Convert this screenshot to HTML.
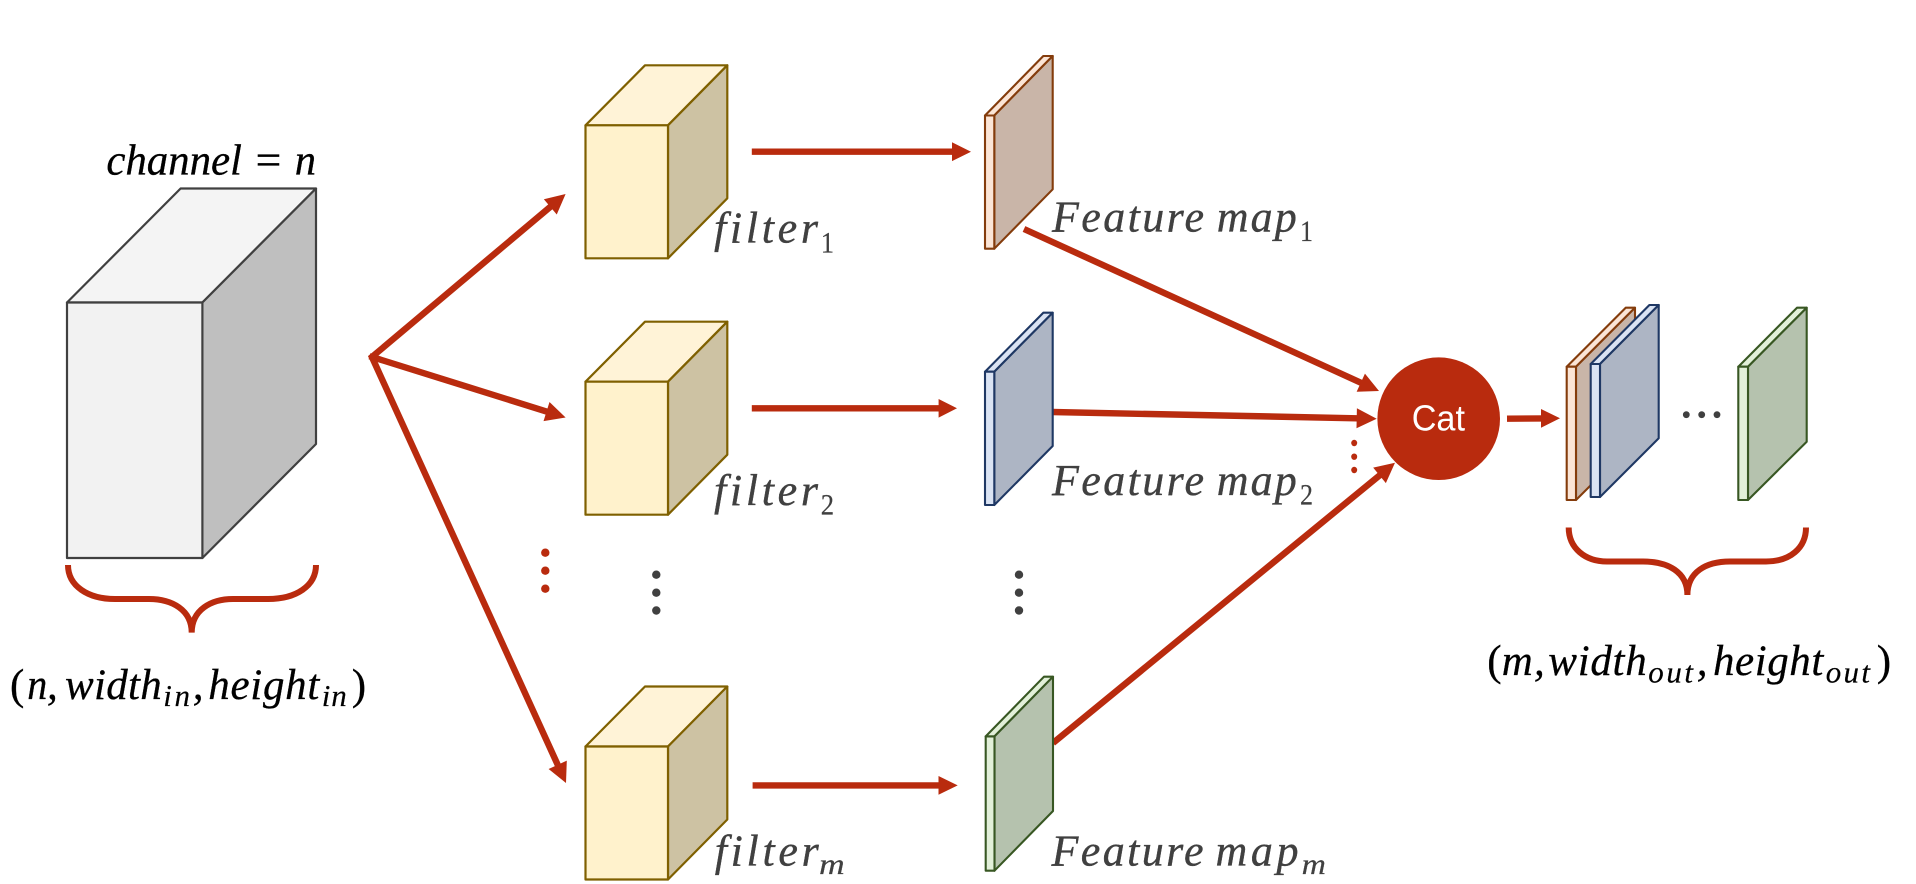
<!DOCTYPE html>
<html><head><meta charset="utf-8"><style>
html,body{margin:0;padding:0;background:#fff;width:1916px;height:884px;overflow:hidden}
svg{display:block}
text{font-family:"Liberation Serif",serif;font-style:italic}
.b{font-size:43px;fill:#000;stroke:#000;stroke-width:.3}
.bs{font-size:31px;fill:#000;stroke:#000;stroke-width:.2}
.g{font-size:44px;fill:#404040;stroke:#404040;stroke-width:.35}
.gs{font-size:30px;fill:#404040;stroke:#404040;stroke-width:.2}
.n{font-style:normal}
</style></head><body>
<svg width="1916" height="884" viewBox="0 0 1916 884" xmlns="http://www.w3.org/2000/svg">
<defs>
<g id="fc1" stroke="#7F6000" stroke-width="2.2" stroke-linejoin="round">
<polygon points="585.5,0 668,0 727.3,-60 645,-60" fill="#FFF3D7"/>
<polygon points="668,0 727.3,-60 727.3,73 668,133" fill="#CDC2A3"/>
<rect x="585.5" y="0" width="82.5" height="133" fill="#FFF2CC"/>
</g>
</defs>
<!-- gray cube -->
<g stroke="#404040" stroke-width="2.2" stroke-linejoin="round">
<polygon points="67,302.5 202.4,302.5 316,188.5 180.6,188.5" fill="#F4F4F4"/>
<polygon points="202.4,302.5 316,188.5 316,444 202.4,558" fill="#BFBFBF"/>
<rect x="67" y="302.5" width="135.4" height="255.5" fill="#F2F2F2"/>
</g>
<text class="b" x="106.4" y="174.7" textLength="135.5">channel</text>
<text class="b n" x="255.6" y="174.7" textLength="25.7" lengthAdjust="spacingAndGlyphs">=</text>
<text class="b" x="294.7" y="174.7" textLength="21.3" lengthAdjust="spacingAndGlyphs">n</text>
<path d="M68 565C68 586 88 599 115 599L149 599C172 599 191.7 610 191.7 632.6C191.7 610 211 599 233 599L268 599C296 599 316 586 316 565" fill="none" stroke="#B92B0E" stroke-width="6"/>
<text class="b n" x="10" y="699">(</text>
<text class="b" x="27.3" y="699" textLength="20" lengthAdjust="spacingAndGlyphs">n</text>
<text class="b" x="47" y="699">,</text>
<text class="b" x="65" y="699" textLength="96.7">width</text>
<text class="bs" x="163.3" y="706" textLength="26.7">in</text>
<text class="b" x="192.7" y="699">,</text>
<text class="b" x="208.3" y="699" textLength="111">height</text>
<text class="bs" x="321.7" y="706" textLength="25">in</text>
<text class="b n" x="351.7" y="699">)</text>
<!-- arrows -->
<g stroke="#B92B0E" stroke-width="6.4" fill="none">
<line x1="370" y1="358.6" x2="554.9" y2="203"/>
<line x1="369.5" y1="356.2" x2="552.2" y2="413.3"/>
<line x1="371" y1="355" x2="560.2" y2="770.3"/>
<line x1="751.8" y1="151.7" x2="955" y2="151.7"/>
<line x1="751.8" y1="408.3" x2="942" y2="408.3"/>
<line x1="752.6" y1="785.4" x2="942" y2="785.4"/>
<line x1="1024" y1="229" x2="1366.3" y2="385.2"/>
<line x1="1052" y1="412" x2="1362.7" y2="418.4"/>
<line x1="1053" y1="743" x2="1384.2" y2="471.6"/>
<line x1="1507" y1="418.7" x2="1545" y2="418.4"/>
</g>
<g fill="#B92B0E">
<polygon transform="translate(565.6 194) rotate(-40.1)" points="0,0 -20,-10 -20,10"/>
<polygon transform="translate(565.6 417.5) rotate(17.35)" points="0,0 -20,-10 -20,10"/>
<polygon transform="translate(566 783) rotate(65.5)" points="0,0 -20,-10 -20,10"/>
<polygon points="971,151.7 952,142.3 952,161.1"/>
<polygon points="957,408.3 938.6,399 938.6,417.6"/>
<polygon points="957.7,785.4 938.5,776 938.5,794.8"/>
<polygon transform="translate(1379 391) rotate(24.5)" points="0,0 -20,-10 -20,10"/>
<polygon transform="translate(1376.7 418.7) rotate(1.18)" points="0,0 -20,-10 -20,10"/>
<polygon transform="translate(1395 462.7) rotate(-39.3)" points="0,0 -20,-10 -20,10"/>
<polygon points="1560,418.3 1541,409 1541,427.7"/>
<circle cx="545.3" cy="552.7" r="4.2"/><circle cx="545.3" cy="570.7" r="4.2"/><circle cx="545.3" cy="588.7" r="4.2"/>
<ellipse cx="1354.2" cy="443" rx="3" ry="3.2"/><ellipse cx="1354.2" cy="456.7" rx="3" ry="3.2"/><ellipse cx="1354.2" cy="470" rx="3" ry="3.2"/>
<circle cx="1438.7" cy="418.7" r="61.3"/>
</g>
<g fill="#404040">
<circle cx="656.3" cy="574.7" r="4.2"/><circle cx="656.3" cy="592.7" r="4.2"/><circle cx="656.3" cy="610.5" r="4.2"/>
<circle cx="1019" cy="574.7" r="4.2"/><circle cx="1019" cy="592.7" r="4.2"/><circle cx="1019" cy="610.5" r="4.2"/>
<circle cx="1686.3" cy="414.7" r="3.4"/><circle cx="1701.7" cy="414.7" r="3.4"/><circle cx="1717" cy="414.7" r="3.4"/>
</g>
<text x="1411.7" y="430.7" textLength="53.3" lengthAdjust="spacingAndGlyphs" style="font-family:'Liberation Sans',sans-serif;font-style:normal;font-size:36px;fill:#fff">Cat</text>
<!-- filters -->
<use href="#fc1" transform="translate(0 125.3)"/>
<use href="#fc1" transform="translate(0 381.7)"/>
<use href="#fc1" transform="translate(0 746.5)"/>
<text class="g" x="714" y="242.7" textLength="104">filter</text>
<text class="gs n" x="820.7" y="252.3" textLength="13.3" lengthAdjust="spacingAndGlyphs">1</text>
<text class="g" x="714" y="505" textLength="104">filter</text>
<text class="gs n" x="820.7" y="514.5" textLength="13.3" lengthAdjust="spacingAndGlyphs">2</text>
<text class="g" x="714.7" y="865.6" textLength="104">filter</text>
<text class="gs" x="819" y="874" textLength="25.7" lengthAdjust="spacingAndGlyphs">m</text>
<!-- feature maps -->
<g stroke-width="2.1" stroke-linejoin="round">
<g stroke="#843C0C">
<polygon points="985,115.5 994.3,115.5 1052.7,56 1043.3,56" fill="#FBE5D6"/>
<polygon points="994.3,115.5 1052.7,56 1052.7,189.3 994.3,248.7" fill="#C9B5A8"/>
<rect x="985" y="115.5" width="9.3" height="133.2" fill="#FBE5D6"/>
</g>
<g stroke="#1F3864">
<polygon points="985,371.7 994.3,371.7 1052.7,312.7 1043.3,312.7" fill="#DAE3F3"/>
<polygon points="994.3,371.7 1052.7,312.7 1052.7,446 994.3,505" fill="#ADB5C4"/>
<rect x="985" y="371.7" width="9.3" height="133.3" fill="#DAE3F3"/>
</g>
<g stroke="#385723">
<polygon points="985.7,736.4 994.5,736.4 1053,676.7 1044,676.7" fill="#E2F0D9"/>
<polygon points="994.5,736.4 1053,676.7 1053,811 994.5,870.7" fill="#B5C2AE"/>
<rect x="985.7" y="736.4" width="8.8" height="134.3" fill="#E2F0D9"/>
</g>
<g stroke="#843C0C">
<polygon points="1566.7,366.7 1576,366.7 1635,307.7 1625.7,307.7" fill="#FBE5D6"/>
<polygon points="1576,366.7 1635,307.7 1635,441 1576,500" fill="#C9B5A8"/>
<rect x="1566.7" y="366.7" width="9.3" height="133.3" fill="#FBE5D6"/>
</g>
<g stroke="#1F3864">
<polygon points="1590.7,364 1600,364 1658.7,305 1649.4,305" fill="#DAE3F3"/>
<polygon points="1600,364 1658.7,305 1658.7,438.3 1600,497" fill="#ADB5C4"/>
<rect x="1590.7" y="364" width="9.3" height="133" fill="#DAE3F3"/>
</g>
<g stroke="#385723">
<polygon points="1738.3,366.7 1748,366.7 1806.7,307.7 1797,307.7" fill="#E2F0D9"/>
<polygon points="1748,366.7 1806.7,307.7 1806.7,441.7 1748,500" fill="#B5C2AE"/>
<rect x="1738.3" y="366.7" width="9.7" height="133.3" fill="#E2F0D9"/>
</g>
</g>
<text class="g" x="1052" y="231.7" textLength="152">Feature</text>
<text class="g" x="1216.7" y="231.7" textLength="80">map</text>
<text class="gs n" x="1300" y="241" textLength="13" lengthAdjust="spacingAndGlyphs">1</text>
<text class="g" x="1052" y="495" textLength="152">Feature</text>
<text class="g" x="1216.7" y="495" textLength="80">map</text>
<text class="gs n" x="1300" y="504.3" textLength="13" lengthAdjust="spacingAndGlyphs">2</text>
<text class="g" x="1051.5" y="865.6" textLength="152">Feature</text>
<text class="g" x="1215.5" y="865.6" textLength="83">map</text>
<text class="gs" x="1301.7" y="874" textLength="24.3" lengthAdjust="spacingAndGlyphs">m</text>
<!-- right brace + label -->
<path d="M1568.7 527.5C1568.7 548 1585 561.5 1607 561.5L1643 561.5C1668 561.5 1687.4 572 1687.4 595C1687.4 572 1706 561.5 1730 561.5L1766 561.5C1790 561.5 1806 548 1806 527.5" fill="none" stroke="#B92B0E" stroke-width="6"/>
<text class="b n" x="1487.3" y="675">(</text>
<text class="b" x="1501.7" y="675" textLength="31" lengthAdjust="spacingAndGlyphs">m</text>
<text class="b" x="1534" y="675">,</text>
<text class="b" x="1548.3" y="675" textLength="98.4">width</text>
<text class="bs" x="1648.3" y="682.3" textLength="44.7">out</text>
<text class="b" x="1696.7" y="675">,</text>
<text class="b" x="1713" y="675" textLength="110.3">height</text>
<text class="bs" x="1825.7" y="682.3" textLength="44.3">out</text>
<text class="b n" x="1876.7" y="675">)</text>
</svg>
</body></html>
